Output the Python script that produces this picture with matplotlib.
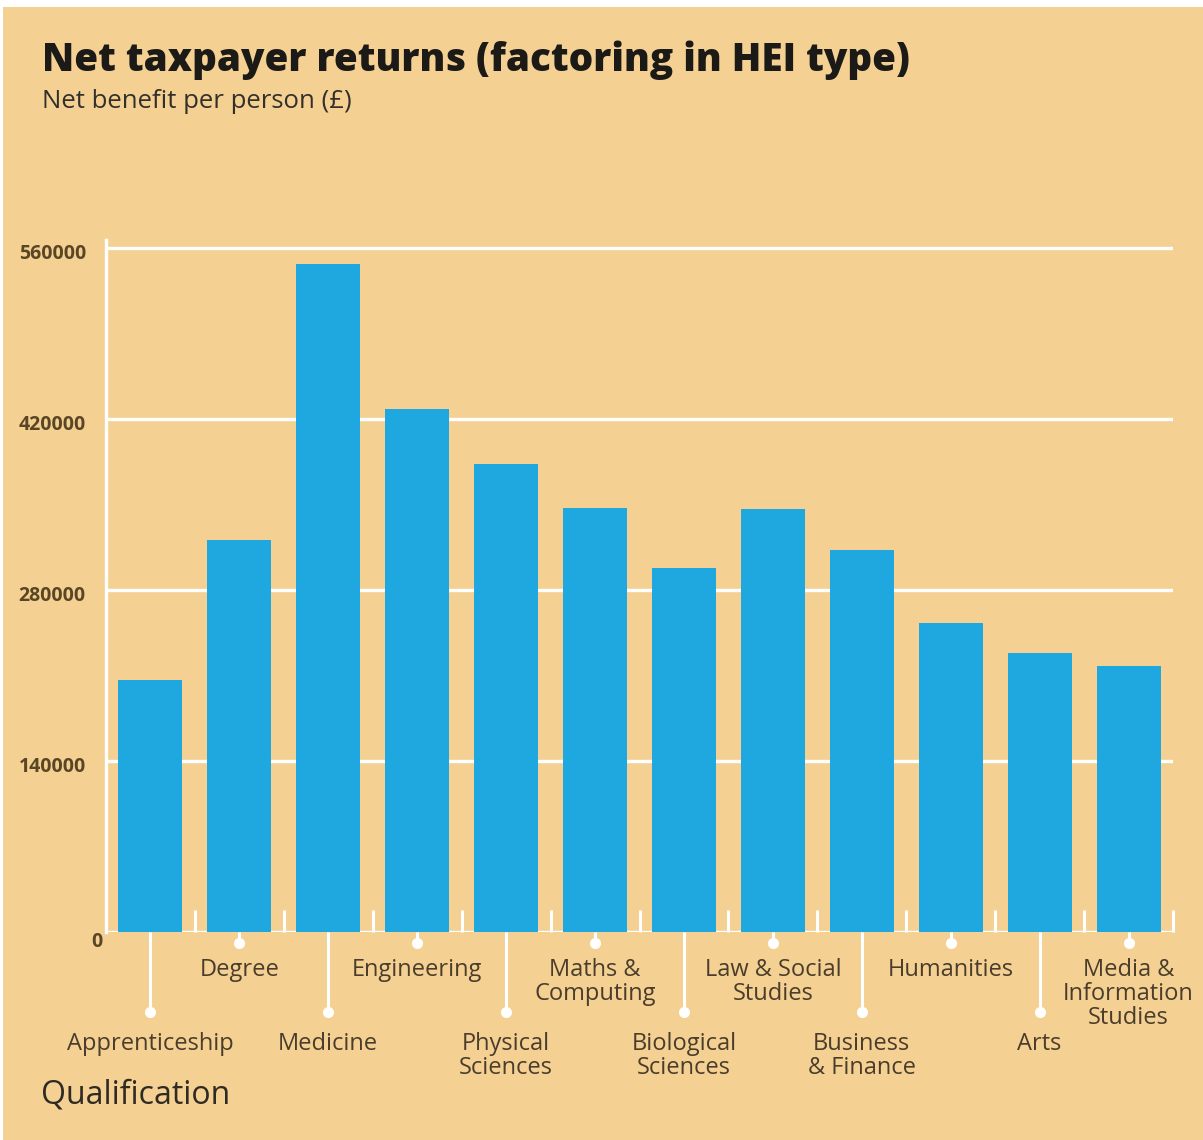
import matplotlib
matplotlib.use("Agg")
import matplotlib.pyplot as plt
from matplotlib.patches import Rectangle
from matplotlib.transforms import ScaledTranslation

# Net benefit per person (GBP) by qualification
qualifications = [
    "Apprenticeship", "Degree", "Medicine", "Engineering",
    "Physical\nSciences", "Maths &\nComputing", "Biological\nSciences",
    "Law & Social\nStudies", "Business\n& Finance", "Humanities",
    "Arts", "Media &\nInformation\nStudies",
]
net_benefit = [206000, 321000, 547000, 428000, 383000, 347000,
               298000, 346000, 313000, 253000, 228000, 218000]
y_ticks = [140000, 280000, 420000, 560000]

BG = "#F4D193"
BAR = "#1EA8DF"
DARK = "#1C1A17"
BROWN = "#5A4624"
LABEL = "#4A3D2B"

plt.rcParams["font.family"] = ["Open Sans", "DejaVu Sans"]

fig = plt.figure(figsize=(12.03, 11.40), dpi=100)
fig.patch.set_facecolor("white")
fig.patches.append(Rectangle((3 / 1203, 0), 1, 1 - 7 / 1140, transform=fig.transFigure,
                             facecolor=BG, edgecolor="none", zorder=-10))

ax = fig.add_axes([106 / 1203, 208 / 1140, 1067 / 1203, 692 / 1140])
ax.set_facecolor("none")

x = list(range(len(qualifications)))
ax.bar(x, net_benefit, width=0.72, color=BAR, zorder=3)

ax.set_xlim(-0.5, len(qualifications) - 0.5)
ax.set_ylim(0, 566500)

# white grid and axis lines
ax.set_yticks(y_ticks, [str(v) for v in y_ticks])
ax.yaxis.grid(True, color="white", linewidth=2.4, zorder=1)
ax.set_axisbelow(True)
for side in ["top", "right", "bottom"]:
    ax.spines[side].set_visible(False)
ax.spines["left"].set_color("white")
ax.spines["left"].set_linewidth(2.4)
ax.axhline(0, color="white", linewidth=2.4, zorder=2)

ax.tick_params(axis="y", length=0, pad=14.5, labelsize=14, labelcolor=BROWN)
ax.tick_params(axis="x", length=0, labelbottom=False)
for lbl in ax.get_yticklabels():
    lbl.set_fontweight("bold")
    lbl.set_transform(lbl.get_transform() + ScaledTranslation(0, -4 / 100, fig.dpi_scale_trans))

ax.annotate("0", xy=(-0.5, 0), xytext=(-9, -10), textcoords="offset pixels",
            ha="center", va="center", fontsize=14, fontweight="bold", color=BROWN,
            annotation_clip=False)

# short separators between categories
xt = ax.get_xaxis_transform()
for b in [i + 0.5 for i in x]:
    ax.plot([b, b], [0, 22 / 692], transform=xt, color="white", lw=2.2,
            zorder=2, clip_on=False, solid_capstyle="butt")

# label stems, alternating long and short
for i, name in enumerate(qualifications):
    if i % 2 == 0:
        dot_y = -80 / 692
        text_y = -100 / 692
    else:
        dot_y = -11 / 692
        text_y = -26 / 692
    ax.plot([i, i], [0, dot_y], transform=xt, color="white", lw=2.2,
            clip_on=False, zorder=2, solid_capstyle="butt")
    ax.plot([i], [dot_y], transform=xt, marker="o", ms=8, color="white",
            mec="none", clip_on=False, zorder=2)
    ax.text(i, text_y, name, transform=xt, ha="center", va="top",
            fontsize=17, color=LABEL, linespacing=1.0)

fig.text(42 / 1203, 1 - 60 / 1140, "Net taxpayer returns (factoring in HEI type)",
         ha="left", va="center", fontsize=27.8, fontweight="heavy", color=DARK)
fig.text(42 / 1203, 1 - 101 / 1140, "Net benefit per person (£)",
         ha="left", va="center", fontsize=18.5, color="#33302B")
fig.text(41 / 1203, 1 - 1095 / 1140, "Qualification",
         ha="left", va="center", fontsize=23, color="#2F2A24")

fig.savefig("out.png", dpi=100, facecolor=fig.get_facecolor())
